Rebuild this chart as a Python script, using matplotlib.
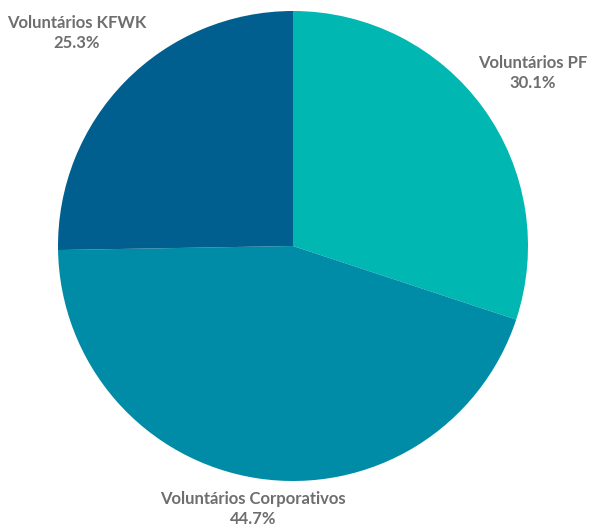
import matplotlib
matplotlib.use("Agg")
import matplotlib.pyplot as plt

categories = ["Voluntários PF", "Voluntários Corporativos", "Voluntários KFWK"]
values = [30.1, 44.7, 25.3]
colors = ["#00B8B1", "#008CA7", "#005F8E"]
pct_labels = ["30.1%", "44.7%", "25.3%"]

W, H = 591, 527
fig = plt.figure(figsize=(W / 100, H / 100), dpi=100)
ax = fig.add_axes([0, 0, 1, 1])

cx, cy, r = 293, 246, 235
ax.pie(values, colors=colors, startangle=-90, counterclock=True,
       center=(cx, cy), radius=r, frame=True,
       wedgeprops=dict(linewidth=0))
ax.set_xlim(0, W)
ax.set_ylim(H, 0)
ax.set_aspect("equal")
ax.axis("off")

label_pos = [(533, 73), (253, 509), (77, 33)]
for (x, y), name, pct in zip(label_pos, categories, pct_labels):
    ax.text(x, y, f"{name}\n{pct}", ha="center", va="center",
            fontsize=12, fontweight="bold", family="Lato",
            color="#6E6E6E", linespacing=1.35)

fig.savefig("out.png", dpi=100)
